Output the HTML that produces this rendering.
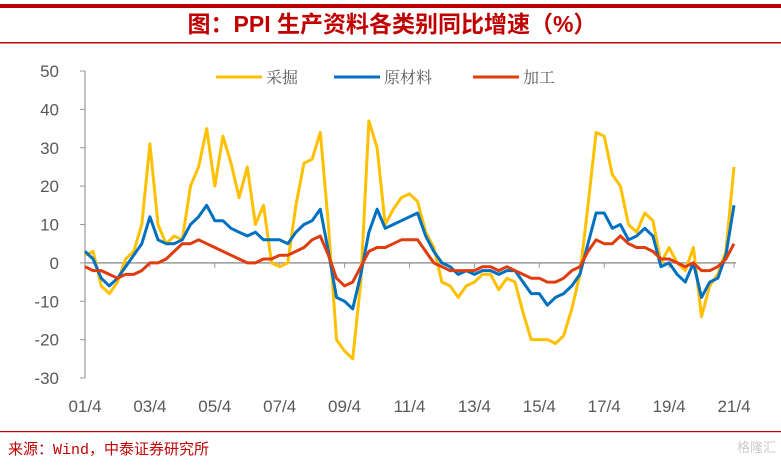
<!DOCTYPE html>
<html><head><meta charset="utf-8"><style>
body{margin:0;background:#fff;width:781px;height:464px;overflow:hidden;font-family:"Liberation Sans","Noto Sans CJK SC",sans-serif}
</style></head><body>
<svg id="c" width="781" height="464" xmlns="http://www.w3.org/2000/svg">
<rect x="0" y="4" width="781" height="4" fill="#c00000"/>
<text x="392" y="32" text-anchor="middle" font-size="23" font-weight="bold" fill="#c00000" font-family="'Liberation Sans','Noto Sans CJK SC',sans-serif">图：PPI 生产资料各类别同比增速（%）</text>
<rect x="0" y="42" width="781" height="1.5" fill="#c00000"/>
<rect x="0" y="431" width="781" height="1.2" fill="#c00000"/>
<text x="8" y="454" font-size="15" fill="#c00000" font-family="'Liberation Mono','Noto Sans CJK SC',monospace">来源：Wind，中泰证券研究所</text>
<text x="776" y="452" text-anchor="end" font-size="13" fill="#ccc">格隆汇</text>
<g id="legend">
<line x1="216" y1="77" x2="262" y2="77" stroke="#ffc000" stroke-width="3"/>
<text x="266" y="83" font-size="16" fill="#595959" font-family="'Liberation Serif','Noto Serif CJK SC',serif">采掘</text>
<line x1="334" y1="77" x2="380" y2="77" stroke="#0070c0" stroke-width="3"/>
<text x="384" y="83" font-size="16" fill="#595959" font-family="'Liberation Serif','Noto Serif CJK SC',serif">原材料</text>
<line x1="473" y1="77" x2="519" y2="77" stroke="#e03c0e" stroke-width="3"/>
<text x="523" y="83" font-size="16" fill="#595959" font-family="'Liberation Serif','Noto Serif CJK SC',serif">加工</text>
</g>
</svg>
<script>
const yTicks=[50,40,30,20,10,0,-10,-20,-30];
const xLabels=["01/4","03/4","05/4","07/4","09/4","11/4","13/4","15/4","17/4","19/4","21/4"];
// quarterly points 2001/4 .. 2021/4
const mining=[2,3,-6,-8, -5,1,3,10, 31,10,5,7, 6,20,25,35, 20,33,26,17, 25,10,15,0, -1,0,15,26, 27,34,10,-20, -23,-25,-5,37, 30,10,14,17, 18,16,8,4, -5,-6,-9,-6, -5,-3,-3,-7, -4,-5,-13,-20, -20,-20,-21,-19, -12,-3,15,34, 33,23,20,10, 8,13,11,0, 4,0,-2,4, -14,-6,-3,3, 25];
const rawMat=[3,1,-4,-6, -4,-1,2,5, 12,6,5,5, 6,10,12,15, 11,11,9,8, 7,8,6,6, 6,5,8,10, 11,14,3,-9, -10,-12,-3,8, 14,9,10,11, 12,13,7,3, 0,-1,-3,-2, -3,-2,-2,-3, -2,-2,-5,-8, -8,-11,-9,-8, -6,-3,5,13, 13,9,10,6, 7,9,7,-1, 0,-3,-5,0, -9,-5,-4,2, 15];
const processing=[-1,-2,-2,-3, -4,-3,-3,-2, 0,0,1,3, 5,5,6,5, 4,3,2,1, 0,0,1,1, 2,2,3,4, 6,7,2,-4, -6,-5,-1,3, 4,4,5,6, 6,6,3,0, -1,-2,-2,-2, -2,-1,-1,-2, -1,-2,-3,-4, -4,-5,-5,-4, -2,-1,3,6, 5,5,7,5, 4,4,3,1, 1,0,-1,0, -2,-2,-1,1, 5];
const svg=document.getElementById('c');const NS="http://www.w3.org/2000/svg";
const X0=85,X1=734,Y50=71,Y_30=378;
const xs=i=>X0+(X1-X0)*i/80;
const ys=v=>Y50+(50-v)*(Y_30-Y50)/80;
function mk(t,a){const e=document.createElementNS(NS,t);for(const k in a)e.setAttribute(k,a[k]);svg.appendChild(e);return e;}
let ax=mk('line',{x1:X0,y1:Y50,x2:X0,y2:Y_30,stroke:'#999','stroke-width':1.2});


yTicks.forEach(v=>{
 let t=mk('line',{x1:X0-5,y1:ys(v),x2:X0,y2:ys(v),stroke:'#999'});
 
 
 let l=mk('text',{x:59,y:ys(v)+6,'text-anchor':'end','font-size':17,fill:'#595959'});l.textContent=v;
 
 
});
let z=mk('line',{x1:X0,y1:ys(0),x2:X1+2,y2:ys(0),stroke:'#999','stroke-width':1.5});


xLabels.forEach((s,k)=>{
 const x=xs(k*8);
 let t=mk('line',{x1:x,y1:ys(0),x2:x,y2:ys(0)+5,stroke:'#999'});
 
 
 let l=mk('text',{x:x,y:412,'text-anchor':'middle','font-size':17,fill:'#595959'});l.textContent=s;
 
 
});
function series(d,c,n){
 const p=d.map((v,i)=>(i?'L':'M')+xs(i).toFixed(1)+' '+ys(v).toFixed(1)).join('');
 let e=mk('path',{d:p,fill:'none',stroke:c,'stroke-width':3,'stroke-linejoin':'round'});
 
 
}
series(mining,'#ffc000','line-mining');
series(rawMat,'#0070c0','line-raw-materials');
series(processing,'#e03c0e','line-processing');
</script>
</body></html>
